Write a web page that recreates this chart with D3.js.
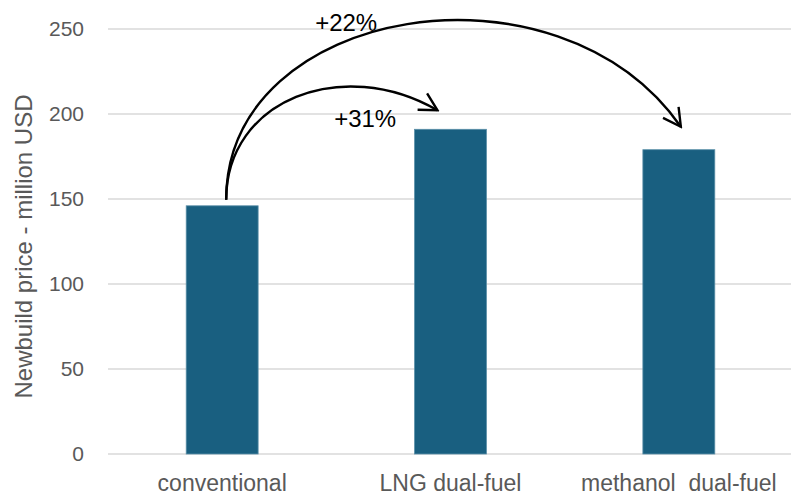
<!DOCTYPE html>
<html>
<head>
<meta charset="utf-8">
<script src="https://cdn.jsdelivr.net/npm/d3@7"></script>
<style>
  html, body { margin: 0; padding: 0; background: #fff; }
  svg { display: block; }
</style>
</head>
<body>
<svg id="chart" width="791" height="497"></svg>
<script>
// Newbuild price by propulsion type (million USD)
const categories = ["conventional", "LNG dual-fuel", "methanol  dual-fuel"];
const prices = [146, 191, 179];
const yTicks = [0, 50, 100, 150, 200, 250];
// Price increase annotations, relative to the conventional vessel
const increases = [
  { from: 0, to: 1, label: "+31%" },
  { from: 0, to: 2, label: "+22%" }
];

const width = 791, height = 497;
const margin = { top: 29, right: -2, bottom: 43, left: 108 };
const font = "Liberation Sans, Arial, sans-serif";

const svg = d3.select("#chart");

const x = d3.scaleBand()
  .domain(categories)
  .range([margin.left, width - margin.right])
  .paddingInner(0.685)
  .paddingOuter(0.3425);

const y = d3.scaleLinear()
  .domain([0, 250])
  .range([height - margin.bottom, margin.top]);

// Horizontal gridlines
svg.append("g")
  .selectAll("line")
  .data(yTicks)
  .join("line")
  .attr("x1", margin.left)
  .attr("x2", width)
  .attr("y1", d => y(d))
  .attr("y2", d => y(d))
  .attr("stroke", "#d9d9d9")
  .attr("stroke-width", 1.5);

// Y axis tick labels
const yAxis = svg.append("g")
  .attr("transform", `translate(${margin.left},0)`)
  .call(d3.axisLeft(y).tickValues(yTicks).tickSize(0).tickPadding(24));
yAxis.select(".domain").remove();
yAxis.selectAll("text")
  .attr("font-family", font)
  .attr("font-size", 21)
  .attr("fill", "#595959");

// Y axis title
svg.append("text")
  .attr("transform", `translate(31.5,${(y(0) + y(250)) / 2 + 5}) rotate(-90)`)
  .attr("text-anchor", "middle")
  .attr("font-family", font)
  .attr("font-size", 24)
  .attr("fill", "#595959")
  .text("Newbuild price - million USD");

// Bars
svg.append("g")
  .selectAll("rect")
  .data(prices)
  .join("rect")
  .attr("x", (d, i) => x(categories[i]))
  .attr("width", x.bandwidth())
  .attr("y", d => y(d))
  .attr("height", d => y(0) - y(d))
  .attr("fill", "#195f80")
  .attr("stroke", "#5a8fa8")
  .attr("stroke-width", 0.8);

// Category labels
const xAxis = svg.append("g")
  .attr("transform", `translate(0,${y(0)})`)
  .call(d3.axisBottom(x).tickSize(0).tickPadding(20.5));
xAxis.select(".domain").remove();
xAxis.selectAll("text")
  .attr("font-family", font)
  .attr("font-size", 23)
  .attr("fill", "#595959")
  .style("white-space", "pre");

// Curved arrows from the conventional bar to each dual-fuel bar
const cx = i => x(categories[i]) + x.bandwidth() / 2;
const startX = cx(0) + 4, startY = y(prices[0]) - 6;

svg.append("defs").append("marker")
  .attr("id", "head")
  .attr("viewBox", "-20 -11 22 22")
  .attr("refX", 0).attr("refY", 0)
  .attr("markerWidth", 22).attr("markerHeight", 22)
  .attr("markerUnits", "userSpaceOnUse")
  .attr("orient", "auto")
  .append("path")
  .attr("d", "M-17.5,-9.5 L0,0 L-17.5,9.5")
  .attr("fill", "none")
  .attr("stroke", "#000")
  .attr("stroke-width", 2.4);

// Curve geometry: rise from the start, end angle and control lengths
const arcs = [
  { endDx: -13, endDy: -19, rise: 100, endAngle: 30, pull: 110, labelDx: 108, labelY: 126.5 },
  { endDx: 2, endDy: -23, rise: 195, endAngle: 55, pull: 215, labelDx: 89, labelY: 30.5 }
];

increases.forEach((inc, k) => {
  const a = arcs[k];
  const ex = cx(inc.to) + a.endDx;
  const ey = y(prices[inc.to]) + a.endDy;
  const ang = a.endAngle * Math.PI / 180;
  const c2x = ex - a.pull * Math.cos(ang);
  const c2y = ey - a.pull * Math.sin(ang);
  svg.append("path")
    .attr("d", `M${startX},${startY} C${startX},${startY - a.rise} ${c2x},${c2y} ${ex},${ey}`)
    .attr("fill", "none")
    .attr("stroke", "#000")
    .attr("stroke-width", 2.4)
    .attr("marker-end", "url(#head)");
  svg.append("text")
    .attr("x", startX + a.labelDx)
    .attr("y", a.labelY)
    .attr("font-family", font)
    .attr("font-size", 24)
    .attr("fill", "#000")
    .text(inc.label);
});
</script>
</body>
</html>
